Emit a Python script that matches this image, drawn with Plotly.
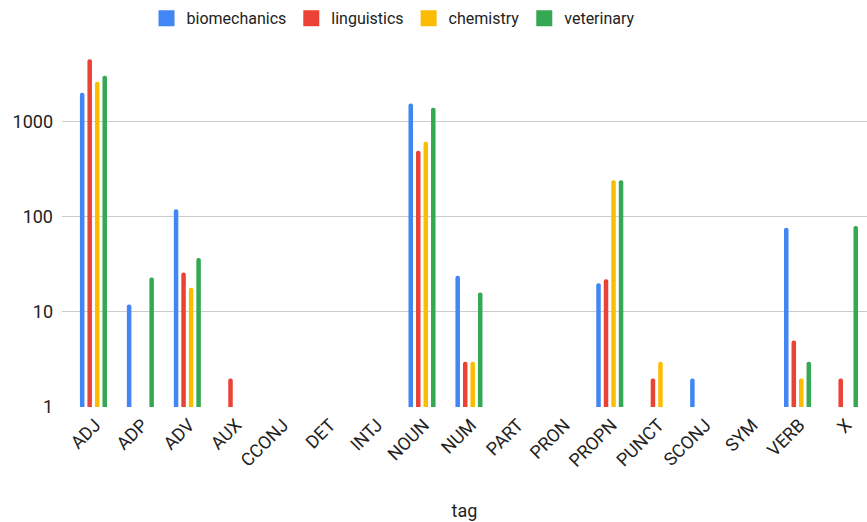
import plotly.graph_objects as go

tags = ["ADJ", "ADP", "ADV", "AUX", "CCONJ", "DET", "INTJ", "NOUN", "NUM",
        "PART", "PRON", "PROPN", "PUNCT", "SCONJ", "SYM", "VERB", "X"]

biomechanics = [2020, 12, 120, None, None, None, None, 1560, 24,
                None, None, 20, None, 2, None, 77, None]
linguistics = [4540, None, 26, 2, None, None, None, 495, 3,
               None, None, 22, 2, None, None, 5, 2]
chemistry = [2640, None, 18, None, None, None, None, 616, 3,
             None, None, 243, 3, None, None, 2, None]
veterinary = [3050, 23, 37, None, None, None, None, 1400, 16,
              None, None, 243, None, None, None, 3, 80]

series = [
    ("biomechanics", biomechanics, "#4285F4"),
    ("linguistics", linguistics, "#EA4335"),
    ("chemistry", chemistry, "#FBBC04"),
    ("veterinary", veterinary, "#34A853"),
]

fig = go.Figure()
for name, vals, color in series:
    fig.add_trace(go.Bar(
        x=tags, y=vals, name=name, showlegend=False,
        marker=dict(color=color, line=dict(width=0), cornerradius=2),
    ))
# legend entries with square swatches
for name, vals, color in series:
    fig.add_trace(go.Scatter(
        x=[None], y=[None], mode="markers", name=name,
        marker=dict(symbol="square", size=16, color=color),
    ))

fig.update_layout(
    width=867, height=522,
    margin=dict(l=62, r=0, t=40, b=115),
    paper_bgcolor="white", plot_bgcolor="white",
    font=dict(family="Roboto, Arial, sans-serif", size=18, color="#222222"),
    barmode="group", bargap=0.36, bargroupgap=0.4,
    showlegend=True,
    legend=dict(orientation="h", xref="container", x=0.169, xanchor="left",
                yref="container", y=0.965, yanchor="middle",
                font=dict(size=16, color="#222222"),
                itemwidth=30, traceorder="normal"),
)
fig.update_xaxes(
    title=dict(text="tag", font=dict(size=18, color="#222222"), standoff=34),
    range=[-0.67, 16.48],
    tickangle=-45, showgrid=False, showline=False, ticks="",
    tickfont=dict(size=18, color="#222222"),
    ticklabelstandoff=3, ticklabelshift=2,
)
fig.update_yaxes(
    type="log", range=[0, 3.86],
    tickvals=[1, 10, 100, 1000], ticktext=["1", "10", "100", "1000"],
    showgrid=True, gridcolor="#cccccc", gridwidth=1,
    zeroline=False, showline=False, ticks="",
    tickfont=dict(size=18, color="#222222"),
    ticklabelstandoff=8,
)

fig.write_html("out.html", config={"displayModeBar": False},
               post_script="document.body.style.margin='0';")
